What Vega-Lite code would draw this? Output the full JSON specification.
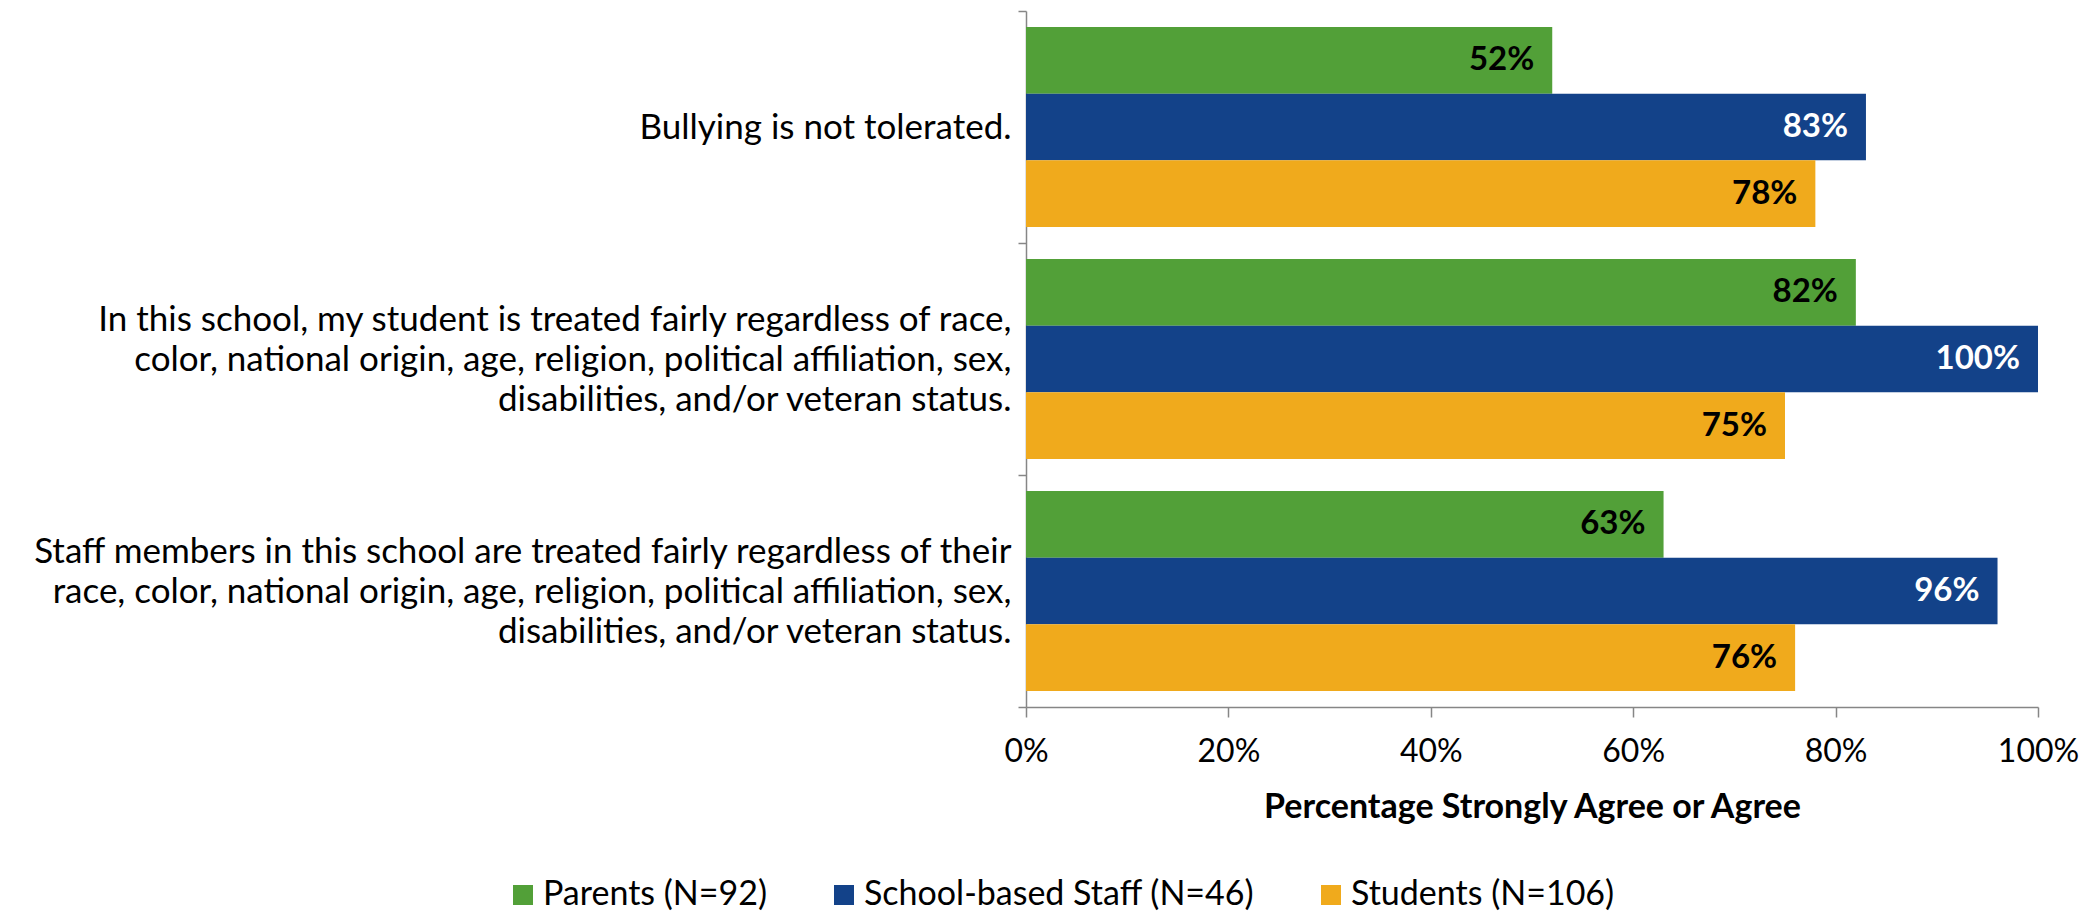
{
  "$schema": "https://vega.github.io/schema/vega-lite/v6.json",
  "autosize": "none",
  "width": 1012,
  "height": 696,
  "padding": {"left": 1026, "top": 11, "right": 61, "bottom": 204},
  "background": "white",
  "config": {
    "view": {"stroke": null},
    "font": "Lato",
    "axis": {"labelFont": "Lato", "titleFont": "Lato"},
    "legend": {"labelFont": "Lato"}
  },
  "data": {
    "values": [
      {"statement": "|Bullying is not tolerated.|", "group": "Parents (N=92)", "value": 0.52},
      {"statement": "|Bullying is not tolerated.|", "group": "School-based Staff (N=46)", "value": 0.83},
      {"statement": "|Bullying is not tolerated.|", "group": "Students (N=106)", "value": 0.78},
      {"statement": "In this school, my student is treated fairly regardless of race,|color, national origin, age, religion, political affiliation, sex,|disabilities, and/or veteran status.", "group": "Parents (N=92)", "value": 0.82},
      {"statement": "In this school, my student is treated fairly regardless of race,|color, national origin, age, religion, political affiliation, sex,|disabilities, and/or veteran status.", "group": "School-based Staff (N=46)", "value": 1.0},
      {"statement": "In this school, my student is treated fairly regardless of race,|color, national origin, age, religion, political affiliation, sex,|disabilities, and/or veteran status.", "group": "Students (N=106)", "value": 0.75},
      {"statement": "Staff members in this school are treated fairly regardless of their|race, color, national origin, age, religion, political affiliation, sex,|disabilities, and/or veteran status.", "group": "Parents (N=92)", "value": 0.63},
      {"statement": "Staff members in this school are treated fairly regardless of their|race, color, national origin, age, religion, political affiliation, sex,|disabilities, and/or veteran status.", "group": "School-based Staff (N=46)", "value": 0.96},
      {"statement": "Staff members in this school are treated fairly regardless of their|race, color, national origin, age, religion, political affiliation, sex,|disabilities, and/or veteran status.", "group": "Students (N=106)", "value": 0.76}
    ]
  },
  "encoding": {
    "y": {
      "field": "statement",
      "type": "nominal",
      "sort": null,
      "scale": {"paddingInner": 0, "paddingOuter": 0},
      "axis": {
        "title": null,
        "labelExpr": "split(datum.label, '|')",
        "labelFontSize": 35,
        "labelLineHeight": 40,
        "labelColor": "#000000",
        "labelAlign": "right",
        "labelBaseline": "middle",
        "labelPadding": 7,
        "labelOffset": -40,
        "labelLimit": 1100,
        "tickBand": "extent",
        "tickSize": 8,
        "tickColor": "#868686",
        "domainColor": "#868686",
        "domainWidth": 1.5,
        "tickWidth": 1.5
      }
    },
    "yOffset": {
      "field": "group",
      "type": "nominal",
      "sort": ["Parents (N=92)", "School-based Staff (N=46)", "Students (N=106)"],
      "scale": {"paddingInner": 0, "paddingOuter": 0.24}
    },
    "x": {
      "field": "value",
      "type": "quantitative",
      "scale": {"domain": [0, 1], "nice": false},
      "axis": {
        "title": "Percentage Strongly Agree or Agree",
        "titleFontSize": 34,
        "titleFontWeight": "bold",
        "titleColor": "#000000",
        "titlePadding": 23,
        "format": ".0%",
        "values": [0, 0.2, 0.4, 0.6, 0.8, 1.0],
        "labelFontSize": 32,
        "labelColor": "#000000",
        "labelPadding": 19,
        "tickSize": 10,
        "tickColor": "#868686",
        "domainColor": "#868686",
        "domainWidth": 1.5,
        "tickWidth": 1.5,
        "grid": false,
        "labelFlush": false
      }
    }
  },
  "layer": [
    {
      "mark": {"type": "bar"},
      "encoding": {
        "color": {
          "field": "group",
          "type": "nominal",
          "sort": ["Parents (N=92)", "School-based Staff (N=46)", "Students (N=106)"],
          "scale": {
            "domain": ["Parents (N=92)", "School-based Staff (N=46)", "Students (N=106)"],
            "range": ["#52A038", "#134289", "#F0AA1C"]
          },
          "legend": {
            "title": null,
            "orient": "none",
            "direction": "horizontal",
            "legendX": -520,
            "legendY": 867,
            "symbolType": "square",
            "symbolSize": 400,
            "symbolStrokeWidth": 0,
            "labelFontSize": 34,
            "labelColor": "#000000",
            "labelOffset": 3,
            "columnPadding": 59,
            "labelLimit": 600
          }
        }
      }
    },
    {
      "mark": {"type": "text", "align": "right", "baseline": "middle", "dx": -18, "fontSize": 33, "fontWeight": "bold"},
      "encoding": {
        "text": {"field": "value", "type": "quantitative", "format": ".0%"},
        "color": {
          "condition": {"test": "datum.group === 'School-based Staff (N=46)'", "value": "#FFFFFF"},
          "value": "#000000"
        }
      }
    }
  ]
}
